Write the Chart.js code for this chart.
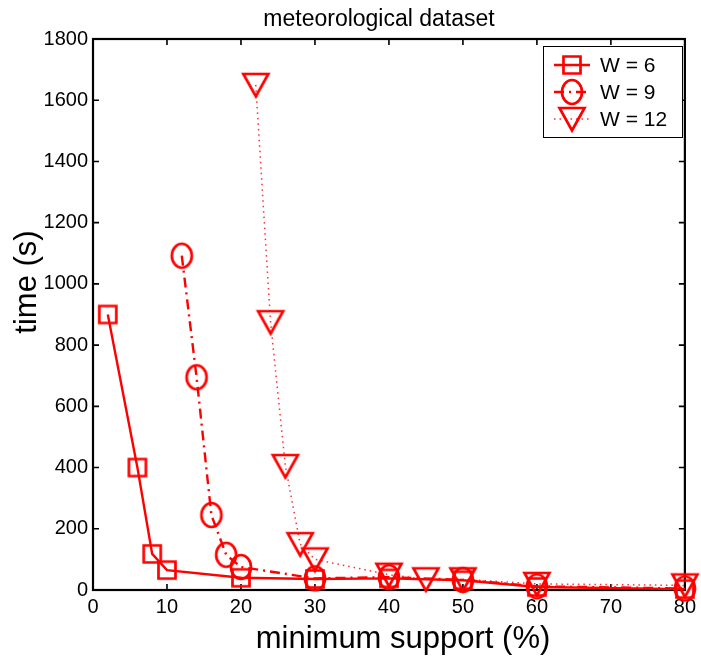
<!DOCTYPE html>
<html>
<head>
<meta charset="utf-8">
<script src="https://cdn.jsdelivr.net/npm/chart.js@4.4.1/dist/chart.umd.min.js"></script>
<style>
  html, body { margin: 0; padding: 0; background: #ffffff; }
  #wrap { width: 701px; height: 661px; }
</style>
</head>
<body>
<div id="wrap"><canvas id="chart" width="701" height="661"></canvas></div>
<script>
// Runtime vs. minimum support for three window sizes
const supportW6  = [2, 6, 8, 10, 20, 30, 40, 50, 60, 80];
const timeW6     = [900, 400, 118, 65, 40, 36, 38, 32, 10, 3];
const supportW9  = [12, 14, 16, 18, 20, 30, 40, 50, 60, 80];
const timeW9     = [1092, 695, 245, 115, 75, 38, 42, 33, 12, 5];
const supportW12 = [22, 24, 26, 28, 30, 40, 45, 50, 60, 80];
const timeW12    = [1650, 875, 405, 150, 100, 50, 35, 35, 20, 15];
const seriesLabels = ['W = 6', 'W = 9', 'W = 12'];
const xTickValues = [0, 10, 20, 30, 40, 50, 60, 70, 80];
const yTickValues = [0, 200, 400, 600, 800, 1000, 1200, 1400, 1600, 1800];

const FONT = '"Liberation Sans", Arial, Helvetica, sans-serif';
const RED = '#ff0000';

// Hollow marker glyphs, drawn once and reused as point styles
function makeMarker(kind) {
  const c = document.createElement('canvas');
  c.width = 34; c.height = 34;
  const g = c.getContext('2d');
  const m = 17;
  g.strokeStyle = RED;
  g.lineWidth = 2.7;
  g.beginPath();
  if (kind === 'square') {
    g.rect(m - 8.5, m - 8.5, 17, 17);
  } else if (kind === 'circle') {
    g.ellipse(m, m, 10, 12, 0, 0, Math.PI * 2);
  } else {
    g.moveTo(m - 12.5, m - 11);
    g.lineTo(m + 12.5, m - 11);
    g.lineTo(m, m + 11.5);
    g.closePath();
  }
  g.stroke();
  return c;
}
const markers = [makeMarker('square'), makeMarker('circle'), makeMarker('triangle')];

function toPoints(xs, ys) { return xs.map((x, i) => ({ x: x, y: ys[i] })); }

const lineStyles = [
  { width: 2.4, dash: [] },
  { width: 2.4, dash: [10, 5, 2, 5] },
  { width: 1.5, dash: [1.5, 4] }
];

const datasets = [
  toPoints(supportW6, timeW6),
  toPoints(supportW9, timeW9),
  toPoints(supportW12, timeW12)
].map((pts, i) => ({
  label: seriesLabels[i],
  data: pts,
  borderColor: i === 2 ? '#ff3030' : RED,
  borderWidth: lineStyles[i].width,
  borderDash: lineStyles[i].dash,
  pointStyle: markers[i],
  pointRadius: 12,
  pointHoverRadius: 12,
  tension: 0,
  fill: false,
  clip: false
}));

// Axes box with inward tick marks on all four sides (drawn under the data)
const framePlugin = {
  id: 'frame',
  beforeDatasetsDraw(chart) {
    const { ctx, chartArea: a, scales } = chart;
    ctx.save();
    ctx.strokeStyle = '#000';
    ctx.lineWidth = 1.6;
    const tl = 6;
    ctx.beginPath();
    scales.x.ticks.forEach(t => {
      const px = scales.x.getPixelForValue(t.value);
      ctx.moveTo(px, a.bottom); ctx.lineTo(px, a.bottom - tl);
      ctx.moveTo(px, a.top); ctx.lineTo(px, a.top + tl);
    });
    scales.y.ticks.forEach(t => {
      const py = scales.y.getPixelForValue(t.value);
      ctx.moveTo(a.left, py); ctx.lineTo(a.left + tl, py);
      ctx.moveTo(a.right, py); ctx.lineTo(a.right - tl, py);
    });
    ctx.stroke();
    ctx.lineWidth = 2.2;
    ctx.strokeRect(a.left, a.top, a.right - a.left, a.bottom - a.top);
    ctx.restore();
  }
};

// Title, axis titles and the line+marker legend
const textPlugin = {
  id: 'texts',
  afterDraw(chart) {
    const { ctx } = chart;
    ctx.save();
    ctx.fillStyle = '#000';

    ctx.font = '23px ' + FONT;
    ctx.textAlign = 'center';
    ctx.textBaseline = 'alphabetic';
    ctx.fillText('meteorological dataset', 379, 26);

    ctx.font = '31px ' + FONT;
    ctx.fillText('minimum support (%)', 403, 648);

    ctx.save();
    ctx.translate(36, 282);
    ctx.rotate(-Math.PI / 2);
    ctx.fillText('time (s)', 0, 0);
    ctx.restore();

    // legend box
    const bx = 543, by = 46, bw = 139, bh = 91;
    ctx.fillStyle = '#fff';
    ctx.fillRect(bx, by, bw, bh);
    ctx.strokeStyle = '#000';
    ctx.lineWidth = 1;
    ctx.strokeRect(bx + 0.5, by + 0.5, bw, bh);

    const rows = [65, 92, 119];
    chart.data.datasets.forEach((ds, i) => {
      const y = rows[i];
      ctx.save();
      ctx.strokeStyle = ds.borderColor;
      ctx.lineWidth = ds.borderWidth;
      ctx.setLineDash(ds.borderDash);
      ctx.beginPath();
      ctx.moveTo(554, y); ctx.lineTo(590, y);
      ctx.stroke();
      ctx.restore();
      const m = ds.pointStyle;
      ctx.drawImage(m, 572 - m.width / 2, y - m.height / 2);
      ctx.fillStyle = '#000';
      ctx.font = '21px ' + FONT;
      ctx.textAlign = 'left';
      ctx.textBaseline = 'middle';
      ctx.fillText(ds.label, 600, y + 1);
    });
    ctx.restore();
  }
};

new Chart(document.getElementById('chart'), {
  type: 'line',
  data: { datasets: datasets },
  options: {
    responsive: false,
    animation: false,
    devicePixelRatio: 1,
    layout: { padding: { top: 39, right: 14, left: 0, bottom: 0 } },
    plugins: { legend: { display: false }, title: { display: false }, tooltip: { enabled: false } },
    scales: {
      x: {
        type: 'linear',
        min: 0, max: 80,
        afterBuildTicks(s) { s.ticks = xTickValues.map(v => ({ value: v })); },
        afterFit(s) { s.height = 71; },
        grid: { display: false, drawTicks: false },
        border: { display: false },
        ticks: {
          color: '#000', font: { family: FONT, size: 20 }, padding: 5,
          maxRotation: 0, autoSkip: false, callback: v => String(v)
        }
      },
      y: {
        type: 'linear',
        min: 0, max: 1800,
        afterBuildTicks(s) { s.ticks = yTickValues.map(v => ({ value: v })); },
        afterFit(s) { s.width = 93; },
        grid: { display: false, drawTicks: false },
        border: { display: false },
        ticks: {
          color: '#000', font: { family: FONT, size: 20 }, padding: 5,
          autoSkip: false, callback: v => String(v)
        }
      }
    }
  },
  plugins: [framePlugin, textPlugin]
});
</script>
</body>
</html>
